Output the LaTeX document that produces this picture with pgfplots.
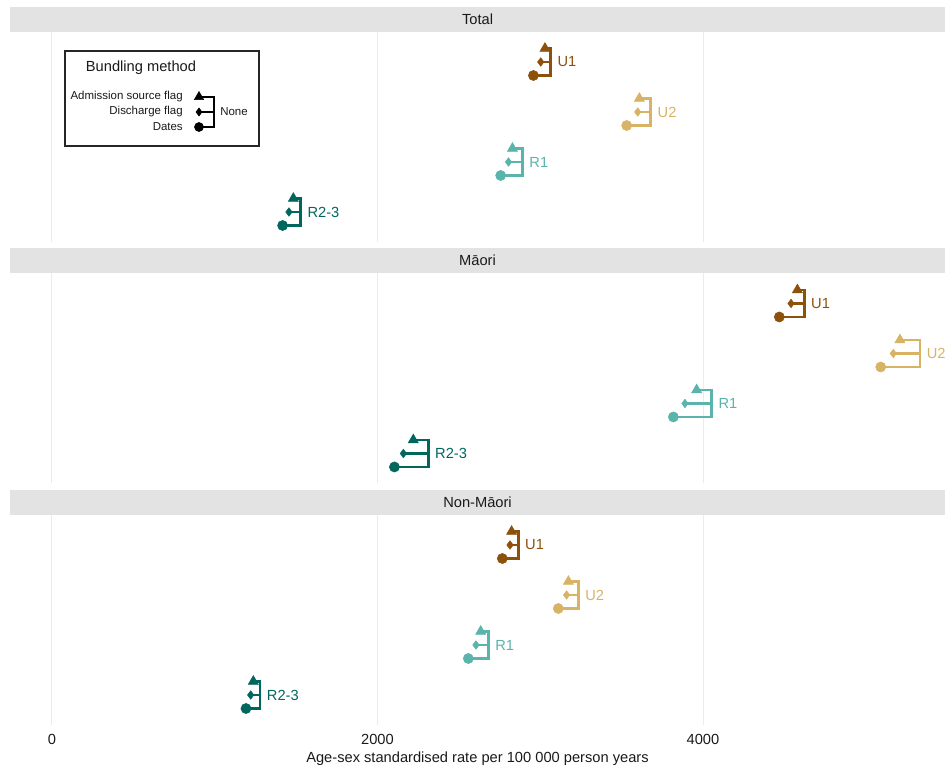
\documentclass[border=0pt]{standalone}
\usepackage{fontspec}
\setmainfont{Liberation Sans}
\usepackage{pgfplots}
\pgfplotsset{compat=1.18}

\definecolor{cU1}{HTML}{8C510A}
\definecolor{cU2}{HTML}{D8B365}
\definecolor{cR1}{HTML}{5AB4AC}
\definecolor{cR23}{HTML}{01665E}
\definecolor{stripgray}{HTML}{E3E3E3}
\definecolor{gridgray}{HTML}{EBEBEB}
\definecolor{txt}{HTML}{1A1A1A}

\pgfplotsset{
  every axis title shift=0pt,
  panel/.style={
    scale only axis, width=701.25pt, height=157.5pt,
    anchor=north west,
    xmin=-258, xmax=5487, ymin=0.4, ymax=4.6,
    axis line style={draw=none}, ytick=\empty,
    xtick={0,2000,4000},
    xmajorgrids, grid style={color=gridgray, line width=0.75pt},
    major tick length=0pt, clip=false,
    title style={at={(0.5,1)}, anchor=south, yshift=0pt, fill=stripgray,
      minimum width=701.25pt, minimum height=18.75pt, inner sep=0pt,
      text=txt, font=\fontsize{11}{13}\selectfont},
    /pgf/number format/assume math mode=true,
  }
}

% #1 colour, #2 y top, #3 y mid, #4 y bottom, #5 admission source flag,
% #6 discharge flag, #7 dates, #8 none, #9 label
\newcommand{\bundle}[9]{%
  \addplot[#1, line width=1.9pt, mark=none, line join=miter] coordinates {(#5,#2) (#8,#2) (#8,#4) (#7,#4)};
  \addplot[#1, line width=1.9pt, mark=none] coordinates {(#6,#3) (#8,#3)};
  \addplot[#1, only marks, mark=triangle*, mark size=4.4pt] coordinates {(#5,#2)};
  \addplot[#1, only marks, mark=diamond*, mark size=3.2pt] coordinates {(#6,#3)};
  \addplot[#1, only marks, mark=*, mark size=3.8pt] coordinates {(#7,#4)};
  \addplot[draw=none, mark=none, nodes near coords={#9}, nodes near coords align={horizontal},
    nodes near coords style={anchor=west, text=#1, inner sep=0pt, xshift=5pt,
      font=\fontsize{11}{13}\selectfont}] coordinates {(#8,#3)};
}

\begin{document}
\begin{tikzpicture}
\useasboundingbox (0,0) rectangle (708.75pt,-574.5pt);

\begin{axis}[panel, at={(7.5pt,-24pt)}, title={Total}, xticklabels={}]
  \bundle{cU1}{4.27}{4}{3.73}{3029}{3003}{2958}{3064}{U1}
  \bundle{cU2}{3.27}{3}{2.73}{3609}{3599}{3531}{3679}{U2}
  \bundle{cR1}{2.27}{2}{1.73}{2829}{2805}{2757}{2891}{R1}
  \bundle{cR23}{1.27}{1}{0.73}{1483}{1456}{1417}{1528}{R2-3}
\end{axis}

\begin{axis}[panel, at={(7.5pt,-205.1pt)}, title={Māori}, xticklabels={}]
  \bundle{cU1}{4.27}{4}{3.73}{4580}{4541}{4469}{4622}{U1}
  \bundle{cU2}{3.27}{3}{2.73}{5210}{5169}{5092}{5333}{U2}
  \bundle{cR1}{2.27}{2}{1.73}{3961}{3889}{3818}{4053}{R1}
  \bundle{cR23}{1.27}{1}{0.73}{2220}{2159}{2104}{2312}{R2-3}
\end{axis}

\begin{axis}[panel, at={(7.5pt,-386.25pt)}, title={Non-Māori},
  xticklabels={0,2000,4000},
  xticklabel style={font=\fontsize{11}{13}\selectfont, text=txt, yshift=-3.75pt},
  xlabel={Age-sex standardised rate per 100 000 person years},
  xlabel style={font=\fontsize{11}{13}\selectfont, text=txt, yshift=1.5pt}]
  \bundle{cU1}{4.27}{4}{3.73}{2824}{2814}{2767}{2865}{U1}
  \bundle{cU2}{3.27}{3}{2.73}{3173}{3162}{3111}{3234}{U2}
  \bundle{cR1}{2.27}{2}{1.73}{2634}{2605}{2558}{2681}{R1}
  \bundle{cR23}{1.27}{1}{0.73}{1237}{1221}{1192}{1278}{R2-3}
\end{axis}

% legend
\fill[white] (48.75pt,-38.25pt) rectangle (194.25pt,-109.5pt);
\draw[line width=0.8pt, black!85] (48.75pt,-38.25pt) rectangle (194.25pt,-109.5pt);
\node[font=\fontsize{11}{13}\selectfont, text=txt] at (105.75pt,-51pt) {Bundling method};
\begin{scope}[font=\fontsize{8.6}{10}\selectfont, text=txt]
  \node[anchor=east, inner sep=0pt] at (137.25pt,-72.75pt) {Admission source flag};
  \node[anchor=east, inner sep=0pt] at (137.25pt,-84pt) {Discharge flag};
  \node[anchor=east, inner sep=0pt] at (137.25pt,-95.25pt) {Dates};
  \node[anchor=west, inner sep=0pt] at (165pt,-84pt) {None};
\end{scope}
\draw[line width=1.6pt, line join=miter] (149.25pt,-72.75pt) -- (160.5pt,-72.75pt) -- (160.5pt,-95.25pt) -- (149.25pt,-95.25pt);
\draw[line width=1.6pt] (149.25pt,-84pt) -- (160.5pt,-84pt);
\begin{scope}[shift={(149.25pt,-72.75pt)}]\pgfsetplotmarksize{4.1pt}\pgfuseplotmark{triangle*}\end{scope}
\begin{scope}[shift={(149.25pt,-84pt)}]\pgfsetplotmarksize{3pt}\pgfuseplotmark{diamond*}\end{scope}
\begin{scope}[shift={(149.25pt,-95.25pt)}]\pgfsetplotmarksize{3.4pt}\pgfuseplotmark{*}\end{scope}
\end{tikzpicture}
\end{document}
